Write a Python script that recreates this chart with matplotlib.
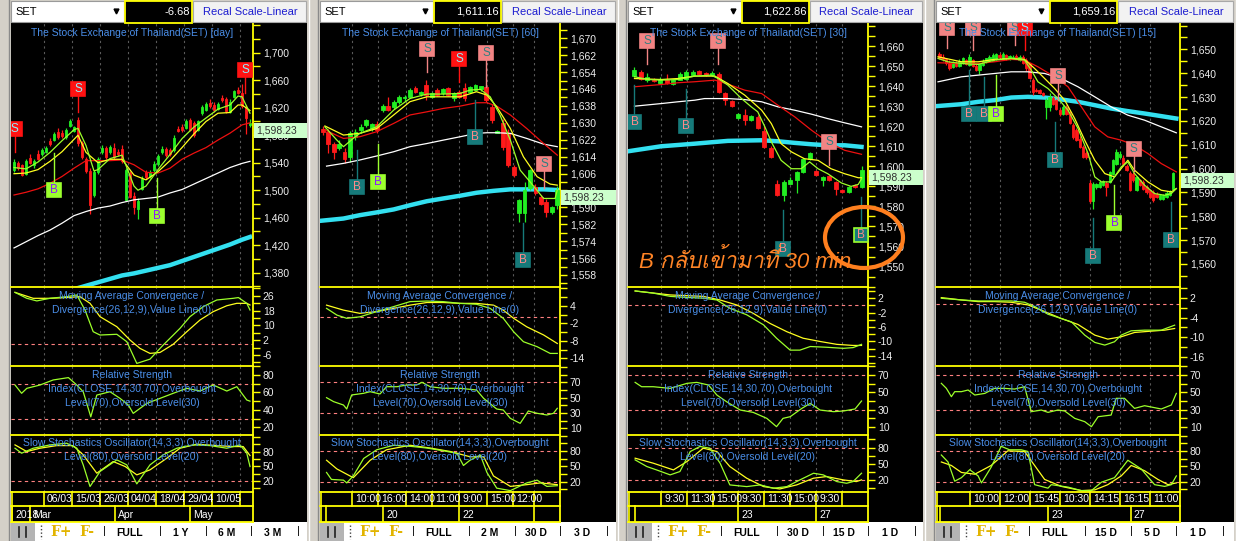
import numpy as np
import matplotlib
matplotlib.use("Agg")
import matplotlib.pyplot as plt
from matplotlib.patches import Rectangle, Ellipse
from matplotlib.ticker import FixedLocator, FuncFormatter
from matplotlib import font_manager
from matplotlib.ft2font import FT2Font

# ============================ DATA ============================
# ---- Panel 1 : daily ----
p1_open = [1530,1540,1536,1524,1547,1536,1552,1552,1556,1572,
           1573,1585,1583,1577,1593,1586,1602,1568,1545,1528,
           1493,1527,1555,1562,1555,1562,1556,1560,1486,1525,
           1492,1472,1502,1527,1520,1529,1538,1555,1560,1559,
           1558,1589,1592,1591,1602,1598,1588,1612,1617,1627,
           1624,1618,1634,1633,1614,1636,1646,1642,1621,1595]
p1_high = [1545,1542,1538,1546,1552,1545,1558,1562,1564,1576,
           1584,1590,1588,1590,1603,1594,1606,1572,1548,1532,
           1530,1548,1566,1565,1566,1568,1560,1566,1532,1528,
           1497,1488,1520,1530,1530,1542,1552,1565,1563,1562,
           1580,1594,1596,1603,1605,1600,1602,1624,1628,1632,
           1628,1628,1638,1636,1632,1646,1650,1654,1624,1604]
p1_low = [1526,1530,1520,1522,1538,1532,1544,1550,1554,1564,
          1571,1574,1576,1575,1592,1584,1565,1545,1525,1466,
          1490,1524,1552,1545,1553,1545,1550,1540,1484,1488,
          1466,1458,1500,1516,1518,1527,1535,1553,1548,1550,
          1556,1584,1585,1589,1586,1578,1586,1610,1615,1620,
          1614,1616,1628,1612,1612,1634,1640,1620,1582,1592]
p1_close = [1541,1533,1522,1543,1540,1543,1546,1559,1561,1567,
            1582,1577,1579,1588,1601,1592,1569,1548,1528,1478,
            1526,1545,1562,1548,1563,1549,1552,1543,1529,1490,
            1476,1485,1517,1519,1527,1538,1550,1560,1551,1553,
            1576,1586,1588,1601,1588,1580,1600,1621,1625,1622,
            1616,1626,1631,1615,1628,1644,1642,1622,1605,1598.23]
p1_ma_fast_x = [0,3,6,9,12,15,16,18,20,21,24,27,30,31,33,36,39,42,45,48,51,54,56,57,59]
p1_ma_fast = [1533,1531,1541,1555,1572,1588,1590,1565,1528,1530,1546,1551,1506,1500,1506,1530,1552,1575,1592,1605,1618,1624,1637,1636,1612]
p1_ma_mid_x = [0,3,6,9,12,15,16,18,21,24,27,30,33,36,39,42,45,48,51,54,56,57,59]
p1_ma_mid = [1524,1525,1530,1542,1556,1574,1580,1555,1540,1545,1545,1522,1515,1527,1543,1562,1582,1600,1612,1613,1624,1624,1616]
p1_ma_x = [0,3,6,9,12,15,18,21,24,27,30,33,36,39,42,45,48,51,54,57,59]
p1_ma_slow = [1493,1497,1502,1510,1520,1532,1543,1543,1543,1544,1537,1526,1525,1532,1545,1554,1562,1573,1583,1595,1598]
p1_ma_long = [1416,1425,1434,1442,1452,1463,1469,1474,1477,1482,1486,1488,1490,1496,1501,1509,1517,1525,1533,1539,1542]
p1_ma_trend = [1332,1337,1342,1346,1351,1356,1361,1366,1371,1376,1379,1383,1387,1391,1397,1403,1409,1415,1421,1428,1432]
p1_macd_x = [0.25,3.2,5.7,9,13.2,15.7,17.75,19.8,21.5,25.7,28.2,30.7,34,37.3,41.5,44,47.3,50.7,54.8,56.1,58.2,59]
p1_macd = [27.8,24.6,23.2,24.6,25.5,26.4,18.3,6.6,4.8,5.2,1.2,-10.5,-8.2,-0.6,8.4,14.7,20.1,23.7,24.6,25,21.9,18.3]
p1_signal_x = [0.25,4.8,9,13.2,16.5,19,21.5,25.7,29,31.5,34,36.5,39.8,43.2,46.5,49.8,53.2,55.7,58.2,59]
p1_signal = [27.8,24.6,24.6,25,25.5,21.9,14.7,9.3,2.1,-2.4,-5.1,-4.6,-0.2,6.6,12.9,17.4,20.6,21.9,21.9,21]
p1_rsi_x = [0.25,1.9,3.2,6.5,9.8,13.6,15.7,17.3,19.2,20.7,24,26.5,28.6,29.8,33.2,36.5,39.8,43.2,46.5,49.8,53.2,55.7,58.2,59]
p1_rsi = [68.5,59,64.7,68.5,74.3,77,68.5,60.8,32,57,60.8,53.2,45.5,36,47.4,53.2,59,64.7,61.6,68.5,61.6,66.6,51.3,50]
p1_k_x = [0.25,1.9,4.8,9,13.2,15.7,17.3,19,21.5,25.7,28.2,30.7,34,37.3,40.7,44.8,49,53.2,56.5,58.2,59]
p1_k = [87,76.8,87,93.8,97.2,87,53,8.8,39.4,63.2,53,14.2,53,73.4,87,93.8,92.4,87,93.8,76.8,49.6]
p1_d_x = [0.25,3.2,6.5,10.7,14.8,17.3,20.7,24.8,27.8,30.7,34,38.2,41.5,45.7,50.7,54.8,57.3,59]
p1_d = [93.8,80.2,87,92.4,92.4,73.4,36,59.8,49.6,32.6,42.8,66.6,87,95.2,92.4,90.4,90.4,72]
p1_sig_x = [0.2, 16, 57.75, 10, 35.75]
p1_sig_y = [1589.7, 1647.9, 1675.6, 1499.6, 1462.5]
p1_sig_end = [1555.6, 1613.8, 1641.4, 1554.1, 1517.8]
p1_sig_kind = ['S', 'S', 'S', 'B', 'B']
p1_time_edges = [7.5, 14.5, 21.5, 28.5, 35.5, 42.5, 49.5, 56.5]
p1_time_labels = ["06/03", "15/03", "26/03", "04/04", "18/04", "29/04", "10/05", ""]
p1_day_edges = [-0.5, 4, 25.25, 44]
p1_day_labels = ["2018", "Mar", "Apr", "May"]

# ---- Panel 2 : 60 min ----
p2_open = [1627.3,1625.8,1620.2,1618,1616.3,1614,1623.4,1626.6,1628.9,1627.3,
           1629.4,1636,1637.9,1637.6,1640,1641.5,1642.3,1646.3,1643.5,1647.9,
           1642.3,1645.5,1643.9,1646.3,1641.5,1644.7,1646.3,1644.7,1645.5,1645.8,
           1646.8,1637.6,1625.4,1629.7,1625,1609.2,1587.1,1587.1,1599,1599.7,
           1595,1592.6,1588,1591]
p2_high = [1628.5,1627,1621,1622,1618,1626,1627,1629.5,1632,1630,
           1631,1639,1642.3,1641,1643,1643,1646.5,1647.5,1645,1650.2,
           1644.5,1646.5,1646.5,1647,1644.5,1645.5,1649,1647.5,1648.5,1647.6,
           1648,1639,1626.8,1632,1627,1610,1594,1602,1608,1601,
           1596,1594,1590.5,1600]
p2_low = [1624,1615.5,1613,1617,1611,1611.5,1622,1625,1628,1626,
          1625,1635,1635.5,1636.5,1639,1640.5,1641.5,1644,1642.5,1640.8,
          1641.5,1642.5,1643,1642.5,1640.5,1641.5,1640.5,1644,1645,1645,
          1640,1630,1625,1617,1609,1604.5,1583.2,1583.2,1598,1596,
          1591,1585.5,1587,1589]
p2_close = [1625.8,1620.2,1616.3,1620.2,1612.7,1625,1625.8,1628.1,1631.3,1629.4,
            1626.6,1637.9,1636,1640,1642.3,1642.3,1645.5,1644.7,1644.5,1643.1,
            1643.9,1643.1,1645.8,1643.1,1643.9,1642.3,1641.5,1647.1,1647.9,1647.4,
            1640.8,1631.3,1626.2,1618.7,1610,1605.3,1593.4,1598.2,1607.6,1596.6,
            1591.8,1587.9,1590.3,1598.23]
p2_ma_fast_x = [0.4,2.6,3.8,5.6,6.8,9.9,13,16,19.1,22.1,25.2,27,28.9,30.7,32.5,34.4,36.2,38,40.5,42.6,43]
p2_ma_fast = [1628.1,1621.8,1618.7,1622.6,1625,1628.1,1636,1641.5,1643.6,1643.6,1643.9,1645.5,1645.8,1642.3,1633.7,1621.8,1607.6,1602.1,1594.2,1594.2,1598.2]
p2_ma_mid_x = [0.4,3.8,6.8,9.9,13,16,19.1,22.1,25.2,28.2,30.1,31.9,34.4,36.8,39.3,41.7,43]
p2_ma_mid = [1628.5,1624.2,1625,1627.3,1633.7,1640,1642.3,1642.3,1642.3,1644.7,1643.1,1637.6,1627.3,1613.9,1604.5,1601,1600.5]
p2_ma_slow_x = [0.4,3.8,6.8,9.9,13,16,19.1,22.1,25.2,28.2,30.1,31.9,34.4,37.4,40.5,43]
p2_ma_slow = [1626.6,1622.6,1623.4,1625.8,1629.7,1633.7,1635.2,1636.8,1637.9,1639.5,1639.5,1637.9,1633.7,1627.3,1620.2,1614.7]
p2_ma_long_x = [0.7,3.8,6.8,9.9,13,16,19.1,22.1,25.2,28.2,30.1,31.9,34.4,37.4,40.5,43]
p2_ma_long = [1609.5,1610.8,1612.4,1614.3,1616.3,1618.7,1620.2,1621.8,1623.4,1625,1625.3,1625.3,1625,1622.6,1619.9,1618.7]
p2_ma_trend_x = [-0.5,3.8,6.8,9.9,13,16,19.1,22.1,25.2,28.2,31.3,34.4,37.4,40.5,43]
p2_ma_trend = [1583.6,1584.7,1586.3,1587.6,1589,1591,1592.9,1594.2,1595.5,1596.9,1597.8,1598.5,1598.5,1598.5,1598.2]
p2_macd_x = [0.7,2.6,4.4,6.8,9.9,13,16,19.1,22.1,25.2,28.2,30.7,33.1,35,36.8,39.3,41.7,43]
p2_macd = [3.1,0.8,-0.3,0.2,2,3.7,5.4,5.6,5.4,4.8,4.5,3.1,-0.3,-4.9,-8.3,-10,-12.3,-12.3]
p2_signal_x = [0.7,3.8,6.8,9.9,13,16,19.1,22.1,25.2,28.2,31.3,33.1,35,37.4,40.5,43]
p2_signal = [4.2,2.5,1.4,2,3.1,4.2,5.1,5.1,4.8,4.8,4.2,2.5,-0.3,-3.2,-6,-8.9]
p2_rsi_x = [0.7,2,3.8,4.4,5.3,7.5,8.7,10.5,11.7,13.6,15.4,17.2,18.2,19.7,22.1,25.2,28.2,29.5,31.9,33.1,34.4,36.2,37.7,39.3,41.1,42.3,43]
p2_rsi = [50,44.8,40.4,35.2,53.5,55.7,57.8,54.8,64.3,64.3,66.5,66.5,70,64.3,62.2,62.2,60,49.1,35.2,33.9,23,16.5,32.6,29.6,27.4,29.6,36.1]
p2_k_x = [0.7,1.6,3.8,4.4,5.6,7.5,9.9,13,16,19.1,22.1,24.6,25.8,27,28.9,30.1,31.9,34.4,37.4,39.3,41.1,43]
p2_k = [38,24.4,23,17.6,31.2,65.2,82.2,91,89,85.6,80.2,75.4,51.6,61.8,72,38,7.4,2.6,17.6,23,10.8,12.2]
p2_d_x = [0.7,2.6,5.6,8.7,11.7,16,19.7,23.4,27,29.5,31.3,34.4,37.4,39.9,43]
p2_d = [61.8,44.8,27.8,61.8,82.2,91,85.6,78.8,68.6,68.6,31.2,10.8,14.2,17.6,14.2]
p2_sig_x = [19.2, 25, 30, 40.6, 6.3, 10.1, 27.9, 36.7]
p2_sig_y = [1664.9, 1660, 1662.8, 1610.3, 1599.4, 1602, 1623.1, 1565.3]
p2_sig_end = [1654, 1649.3, 1647, 1599.2, 1617.1, 1620, 1640.8, 1582.6]
p2_sig_kind = ['s', 'S', 's', 's', 'b', 'B', 'b', 'b']
p2_time_edges = [5.4, 10.1, 15.3, 20.05, 25.0, 30.1, 34.9, 38.8]
p2_time_labels = ["10:00", "16:00", "14:00", "11:00", "9:00", "15:00", "12:00", ""]
p2_day_edges = [0.55, 11.06, 25.0, 38.8]
p2_day_labels = ["", "20", "22", ""]

# ---- Panel 3 : 30 min ----
p3_open = [1645,1647.2,1643,1643.3,1641.7,1643.3,1641,1643.3,1643.8,1645.5,
           1647.7,1646.8,1645.5,1646,1636.7,1632.7,1624.2,1625.5,1623,1624.7,
           1617.7,1609.3,1591,1585.5,1591,1593,1597.2,1603.8,1597.7,1593,
           1595,1592.2,1588,1587.2,1590.5,1589.7]
p3_high = [1649.5,1648,1646.5,1644,1644.5,1646.3,1643.5,1647.2,1648,1648,
           1648.3,1647.2,1647.5,1647,1637.2,1633,1626.8,1628.8,1625.5,1625.5,
           1620,1610,1593,1593.3,1594.7,1597.7,1604.3,1607,1598.2,1595.2,
           1595.5,1592.7,1588.5,1590.2,1591,1600]
p3_low = [1644.5,1643,1642.2,1642.2,1641.2,1641.2,1640.5,1643,1643.3,1645,
          1645.5,1645.2,1645,1636.8,1630.5,1629.5,1623.8,1620.5,1622.5,1618.8,
          1609.2,1604.2,1585,1582.7,1591,1586.7,1596.8,1603.3,1595,1590,
          1592.5,1585.5,1586.7,1586.7,1589.2,1589]
p3_close = [1648.3,1643.8,1644.7,1642.7,1643.8,1641.7,1643,1646.3,1647.2,1647.2,
            1646,1645.7,1646.8,1637.2,1633,1630,1626,1623,1625,1619.3,
            1609.7,1604.7,1585.5,1592.2,1593.3,1597.2,1603.8,1606.7,1595.5,1594.7,
            1593,1588.8,1587.2,1589.7,1589.7,1598.23]
p3_ma_fast_x = [0,2.1,4.1,6.7,9.3,11.8,12.9,14.4,16.5,18,19,20.1,21.1,22.6,24.2,25.7,27,28.3,29.8,31.9,33.4,34.5,35]
p3_ma_fast = [1644.7,1643.3,1643,1643.3,1645,1645.5,1643.8,1640.5,1633.8,1629.7,1627.2,1619.7,1612.2,1603,1598.8,1598.8,1602.2,1598.8,1596.3,1591.7,1590,1591,1593.8]
p3_ma_mid_x = [0,4.1,6.7,9.3,12.4,14.4,17,19.6,21.1,22.6,24.2,26.2,28.3,30.3,32.4,34.5,35]
p3_ma_mid = [1643.8,1643.3,1643.8,1645,1645,1641.3,1635.5,1628,1621.3,1611.3,1607.2,1603.8,1603,1598.8,1596.3,1594.3,1594.3]
p3_ma_slow_x = [0,4.1,6.7,9.3,12.4,14.4,17,19.6,22.1,24.7,27.3,29.8,32.4,35]
p3_ma_slow = [1639.7,1640.8,1641.7,1642.2,1643,1641,1638,1636.3,1630.5,1624.7,1618,1612.2,1608,1606]
p3_ma_long_x = [0,4.1,6.7,9.3,10.8,14.4,17,19.6,22.1,24.7,27.3,29.8,32.4,35]
p3_ma_long = [1630,1631.3,1632.2,1633,1633.8,1633.8,1633.3,1632.2,1629.7,1628,1626,1623.8,1621.7,1619.7]
p3_ma_trend_x = [-1,4.1,9.3,14.4,19.6,22.1,24.7,27.3,29.8,32.4,35]
p3_ma_trend = [1607.5,1610,1611.3,1612.7,1613,1612.5,1611.7,1611,1610.5,1610.5,1609.7]
p3_macd_x = [0.1,2.9,5.5,8.1,10.6,12.7,14.7,17.3,19.9,21.9,24,25.5,27.1,29.6,32.2,33.7,35]
p3_macd = [4,3.4,2.5,2.2,2,1.5,-0.8,-2.6,-5.4,-9.1,-12.4,-12.4,-11.4,-11.6,-11.9,-11.7,-10.8]
p3_signal_x = [0.1,5.5,10.6,13.2,15.8,18.3,20.9,23.5,26,28.6,31.2,33.7,35]
p3_signal = [4,2.9,2.5,1.5,0.1,-2.2,-5,-7.3,-9.1,-10,-10.8,-11.1,-11.1]
p3_rsi_x = [0.1,1.1,2.9,5.5,8.1,9.6,11.4,12.7,14.2,16.3,18.3,20.4,21.9,22.9,24,25.8,27.1,28.6,30.7,32.2,34,35]
p3_rsi = [61.5,56.5,56.5,54.6,60.4,61.5,58.5,46.9,39.2,29.6,26.9,20,10.4,20,21.9,31.5,37.3,29.6,27.7,28.5,30.8,40]
p3_k_x = [0.1,1.9,3.4,5.5,7,8.6,10.1,11.6,13.2,14.7,17.3,19.4,21.4,23.5,25.5,27.6,29.1,31.2,32.7,33.7,35]
p3_k = [57.4,45.2,39,29.9,36,72.7,82,78.9,51.3,11.5,8.4,11.5,5.4,8.4,20.7,32.9,29.9,17.6,14.5,17.6,32.9]
p3_d_x = [0.1,2.9,6,8.1,10.6,12.7,14.7,17.3,19.9,22.4,25,27.6,29.6,32.2,34.2,35]
p3_d = [60.5,51.3,39,54.4,78.9,72.7,45.2,23.8,8.4,4.1,11.5,23.8,26.8,20.7,17.6,20.7]
p3_sig_x = [2.0, 12.95, 30, 0, 7.94, 22.9, 34.9]
p3_sig_y = [1662.5, 1662.5, 1612, 1622.3, 1620.3, 1558.8, 1565.8]
p3_sig_end = [1651, 1651, 1600.5, 1640.5, 1638.5, 1578, 1584.5]
p3_sig_kind = ['s', 's', 's', 'b', 'b', 'b', 'bl']
p3_time_edges = [4.1, 8.1, 12.1, 16.0, 20.0, 24.0, 28.0, 32.0]
p3_time_labels = ["9:30", "11:30", "15:00", "9:30", "11:30", "15:00", "9:30", ""]
p3_day_edges = [0.1, 16.0, 28.0]
p3_day_labels = ["", "23", "27"]

# ---- Panel 4 : 15 min ----
p4_open = [1648.0,1647.0,1645.8,1644.5,1642.5,1644.5,1643.2,1644.5,1645.5,1643.5,
           1645.5,1643.0,1641.3,1643.5,1644.8,1645.5,1645.2,1646.0,1647.8,1646.5,
           1647.5,1646.0,1646.0,1647.2,1645.5,1646.8,1645.5,1643.8,1637.2,1633.0,
           1632.9,1631.8,1626.0,1625.9,1629.5,1628.7,1624.5,1623.0,1625.9,1623.1,
           1618.2,1616.1,1612.5,1609.1,1606.5,1594.0,1586.2,1592.3,1592.3,1593.0,
           1594.0,1594.4,1597.9,1602.1,1605.0,1604.5,1601.0,1598.2,1597.9,1591.0,
           1595.1,1594.4,1592.3,1591.0,1590.0,1589.5,1587.4,1587.4,1588.0,1589.0,
           1591.6]
p4_high = [1649.0,1648.0,1646.5,1645.5,1645.0,1645.0,1645.8,1647.0,1646.0,1648.0,
           1646.0,1643.8,1644.5,1645.8,1646.5,1647.5,1648.3,1648.5,1648.5,1648.8,
           1648.0,1647.8,1647.5,1648.0,1647.5,1647.5,1646.2,1644.5,1637.8,1634.0,
           1633.5,1632.3,1629.5,1631.5,1630.5,1629.2,1625.3,1626.5,1626.5,1624.0,
           1619.0,1617.0,1613.5,1609.8,1607.5,1595.0,1594.5,1594.0,1595.0,1595.3,
           1594.8,1599.0,1604.0,1608.0,1607.5,1605.5,1601.8,1599.0,1598.5,1597.0,
           1595.8,1595.0,1593.0,1591.5,1591.0,1590.0,1589.5,1589.2,1590.5,1591.0,
           1598.5]
p4_low = [1646.0,1645.0,1643.5,1641.5,1642.0,1642.8,1642.8,1644.0,1643.5,1643.2,
          1642.5,1641.0,1639.5,1643.0,1644.5,1645.0,1645.0,1645.5,1646.5,1646.2,
          1645.5,1645.5,1645.8,1645.8,1645.2,1644.0,1641.0,1637.5,1631.0,1632.0,
          1631.2,1630.5,1621.0,1624.0,1626.5,1624.5,1622.0,1622.5,1622.5,1618.5,
          1612.5,1611.5,1608.5,1604.5,1604.0,1585.5,1583.2,1591.5,1592.0,1592.5,
          1588.5,1593.8,1597.5,1601.5,1604.5,1601.0,1599.0,1590.5,1594.5,1590.5,
          1592.5,1591.2,1589.5,1587.5,1585.8,1587.5,1587.0,1586.8,1587.8,1588.5,
          1590.5]
p4_close = [1646.5,1645.8,1644.5,1642.2,1644.3,1643.2,1645.2,1646.2,1644.0,1646.9,
            1643.0,1641.5,1643.8,1645.0,1646.2,1646.9,1647.8,1648.0,1646.9,1648.0,
            1646.2,1647.2,1647.0,1646.2,1646.8,1644.5,1642.0,1637.8,1632.2,1632.5,
            1631.5,1630.8,1628.7,1630.1,1627.0,1625.2,1622.8,1625.9,1623.1,1619.0,
            1613.3,1611.9,1609.1,1604.9,1604.9,1586.2,1593.7,1593.5,1594.4,1594.8,
            1592.3,1598.6,1603.5,1607.0,1606.0,1601.8,1599.5,1590.9,1595.1,1596.5,
            1593.0,1591.6,1590.0,1588.1,1587.0,1588.1,1588.8,1588.8,1589.8,1590.5,
            1598.23]
p4_ma_fast_x = [-0.4,2.6,6.6,11.6,16.5,21.5,25.5,27.5,29.5,32.5,35.5,38.5,41.5,44.5,46.5,48.5,51.4,54.4,56.4,58.4,61.4,64.4,67.4,69.4,70.9]
p4_ma_fast = [1646.2,1644.8,1644.1,1643.7,1645.5,1646.2,1645.5,1641.3,1636.4,1633.6,1629.4,1624.5,1616.8,1606.3,1596.5,1594.4,1594.4,1600.7,1602.8,1597.9,1593,1589.5,1588.8,1589.5,1591.6]
p4_ma_mid_x = [-0.4,6.6,11.6,16.5,21.5,25.5,28.5,31.5,34.5,37.5,40.5,43.5,46.5,49.5,52.4,56.4,58.4,62.4,66.4,69.4,70.9]
p4_ma_mid = [1646.9,1644.8,1644.8,1645.8,1646.2,1645.8,1642,1637.8,1633.6,1628.7,1621,1611.9,1603.5,1597.9,1596.5,1603.5,1599.3,1594.4,1590.9,1590.2,1591.6]
p4_ma_slow_x = [-0.4,6.6,11.6,16.5,21.5,25.5,29.5,34.5,38.5,42.5,46.5,50.4,54.4,58.4,62.4,66.4,70.9]
p4_ma_slow = [1644.4,1644.1,1644.1,1644.8,1645.8,1645.5,1642.7,1638.5,1634.3,1625.9,1617.5,1613.3,1611.9,1609.8,1606.3,1602.1,1598.6]
p4_ma_long_x = [-0.4,6.6,11.6,16.5,21.5,26.5,31.5,36.5,41.5,46.5,51.4,56.4,61.4,66.4,70.9]
p4_ma_long = [1636.4,1638.5,1639.2,1639.9,1640.6,1640.6,1639.9,1637.8,1634.3,1630.1,1625.9,1622.4,1620.3,1617.5,1615]
p4_ma_trend_x = [-0.9,6.6,11.6,16.5,21.5,26.5,31.5,36.5,41.5,46.5,51.4,56.4,61.4,66.4,70.9]
p4_ma_trend = [1626.2,1627,1628,1628.7,1629.8,1630.1,1629.8,1629,1628,1626.6,1625.2,1624.1,1623.1,1622,1621]
p4_macd_x = [0.6,6.6,11.6,16.5,21.5,25.5,28.5,32.5,36.5,39.5,43.5,46.5,49.5,52.4,54.4,57.4,61.4,66.4,70.4]
p4_macd = [1.8,1.3,1,1,1,0.6,-0.7,-3,-4.3,-5.3,-9.3,-11.5,-12.3,-11.3,-9.3,-8,-7.8,-7.8,-6.3]
p4_signal_x = [0.6,6.6,11.6,16.5,21.5,26.5,31.5,36.5,41.5,46.5,50.4,54.4,58.4,63.4,67.4,70.4]
p4_signal = [2,1.3,0.8,0.8,0.6,-0.2,-2.2,-4.3,-6.1,-9.3,-10.5,-9.8,-8.5,-8.1,-7.8,-7.3]
p4_rsi_x = [0.6,2.1,3.6,4.6,6.6,8.6,10.6,13.6,16.5,19.5,22.5,25.5,27.5,30.5,32.5,35.5,37.5,40.5,43.5,45.5,47.5,51.4,52.9,55.4,58.4,61.4,66.4,69.4,70.9]
p4_rsi = [60.4,54.6,45,50.8,50.8,52.7,46.9,48.8,54.6,54.6,53.8,56.5,27.7,29.6,26.9,29.6,28.5,20,16.2,10.4,21.9,23.8,43.1,43.1,31.5,34.6,30.8,35.4,48.8]
p4_k_x = [0.6,2.6,4.6,6.6,9.1,11.6,12.6,15.5,18.5,21,24.5,26.5,28.5,32.5,33.5,38.5,42.5,45.5,48.5,52.4,56.4,60.4,64.4,67.4,69.4,70.9]
p4_k = [72,58.4,21,27.8,43.4,31.2,17.6,48.2,89,82.2,82.2,78.8,14.2,7.4,14.2,9.4,2.6,2.6,19,27.8,61.8,44.8,14.2,10.8,14.2,31.2]
p4_d_x = [0.6,3.6,6.6,10.6,15.5,20.5,25.5,28.5,31.5,36.5,42.5,46.5,50.4,54.4,57.4,61.4,65.4,68.4,70.9]
p4_d = [58.4,51.6,38,34.6,51.6,80.2,78.8,51.6,24.4,10.8,2.6,4,14.2,31.2,51.6,41.4,24.4,14.2,17.6]
p4_sig_x = [2.44, 10.1, 22.5, 25.5, 35.6, 58.2, 8.9, 13.4, 17, 34.5, 46, 52.4, 69.3]
p4_sig_y = [1659, 1659, 1659, 1659, 1639, 1608.3, 1623, 1623, 1623, 1603.7, 1563.4, 1577.2, 1570.1]
p4_sig_end = [1650.5, 1649.7, 1651.8, 1649.7, 1629.1, 1599, 1641.3, 1638.4, 1639.2, 1619.5, 1579.1, 1593, 1585.8]
p4_sig_kind = ['s', 's', 's', 'S', 's', 's', 'b', 'b', 'B', 'b', 'b', 'B', 'b']
p4_time_edges = [9.17, 18.15, 27.1, 36.1, 45.1, 54.06, 63.03]
p4_time_labels = ["10:00", "12:00", "15:45", "10:30", "14:15", "16:15", "11:00"]
p4_day_edges = [0.1, 32.5, 57.3]
p4_day_labels = ["", "23", "27"]

# header / toolbar texts
timeframes = ["[day]", "[60]", "[30]", "[15]"]
header_values = ["-6.68", "1,611.16", "1,622.86", "1,659.16"]
toolbar_labels = [["FULL", "1 Y", "6 M", "3 M"],
                  ["FULL", "2 M", "30 D", "3 D"],
                  ["FULL", "30 D", "15 D", "1 D"],
                  ["FULL", "15 D", "5 D", "1 D"]]
note_text = "B กลับเข้ามาที่ 30 min"

# ============================ STYLE / LAYOUT ============================
W, H = 1236, 541
BG = '#d4d0c8'
YEL = '#ffff00'
TXT = '#eeeeee'
BLUE = '#4a8ee8'
C_UP, C_DN = '#22ee22', '#ff1a1a'
C_FAST, C_MID, C_SLOW, C_LONG, C_TREND = '#9cff2a', '#ffff20', '#ee1010', '#ffffff', '#33e0f0'
LEVEL = '#ff8080'
GRID = '#5a5a5a'
SIG_STYLE = {  # face, text, edge, stem
    'S': ('#ff1212', '#8ff0ff', '#ff1212', '#ff1212'),
    's': ('#f28484', '#2f7f80', '#f28484', '#f28484'),
    'B': ('#9cff2e', '#8a1aff', '#9cff2e', '#9cff2e'),
    'b': ('#167a7a', '#ff8a8a', '#167a7a', '#167a7a'),
    'bl': ('#167a7a', '#ff8a8a', '#9cff2e', '#167a7a'),
}
PANELS = [(11, 253, 307), (320, 560, 616), (628, 868, 923), (936, 1180, 1234)]
Y_TOP, Y_PR, Y_MACD, Y_RSI, Y_STO, Y_R1, Y_R2, Y_END = 22, 287, 366, 435, 492, 506, 522, 541

plt.rcParams['font.family'] = ['Liberation Sans', 'DejaVu Sans']
plt.rcParams['axes.unicode_minus'] = False


def thai_family():
    seen = set()
    cands = []
    for fe in font_manager.fontManager.ttflist:
        if fe.fname in seen:
            continue
        seen.add(fe.fname)
        try:
            cmap = FT2Font(fe.fname).get_charmap()
        except Exception:
            continue
        if 0x0E01 in cmap and 0x0E35 in cmap:
            cands.append(fe)
    if not cands:
        return None
    cands.sort(key=lambda f: (f.style != 'normal', str(f.weight) not in ('400', 'normal')))
    return cands[0].name


fig = plt.figure(figsize=(W / 100, H / 100), dpi=100)
fig.patch.set_facecolor(BG)


def pax(x0, y0, x1, y1, z=1):
    return fig.add_axes([x0 / W, 1 - y1 / H, (x1 - x0) / W, (y1 - y0) / H], zorder=z)


bg = pax(0, 0, W, H, z=-5)
bg.set_xlim(0, W); bg.set_ylim(H, 0); bg.axis('off')
fg = pax(0, 0, W, H, z=10)
fg.set_xlim(0, W); fg.set_ylim(H, 0); fg.axis('off')


def style_axis(ax, xlim, ylim, major, minor, fmt):
    ax.set_facecolor('none')
    ax.set_xlim(*xlim); ax.set_ylim(*ylim)
    ax.yaxis.tick_right()
    ax.yaxis.set_major_locator(FixedLocator(major))
    ax.yaxis.set_minor_locator(FixedLocator(minor))
    ax.yaxis.set_major_formatter(FuncFormatter(fmt))
    ax.tick_params(axis='y', which='both', direction='out', color=YEL, length=5, width=1,
                   labelcolor=TXT, labelsize=7.5, pad=2)
    ax.tick_params(axis='x', which='both', bottom=False, labelbottom=False)
    for s in ('left', 'top', 'bottom'):
        ax.spines[s].set_visible(False)
    ax.spines['right'].set_color(YEL)
    ax.spines['right'].set_linewidth(1.3)


def candles(ax, o, h, l, c, width):
    o, h, l, c = map(np.asarray, (o, h, l, c))
    assert len(o) == len(h) == len(l) == len(c)
    x = np.arange(len(o))
    col = np.where(c >= o, C_UP, C_DN)
    ax.vlines(x, l, h, colors=col, lw=0.9, zorder=2.5)
    ax.bar(x, np.abs(c - o), width, bottom=np.minimum(o, c), color=col, edgecolor=col,
           linewidth=0.6, zorder=2.6)


def line(ax, xs, ys, color, lw=0.9, z=3):
    assert len(xs) == len(ys)
    ax.plot(xs, ys, color=color, lw=lw, zorder=z, solid_joinstyle='round')


def signals(ax, xs, ys, ends, kinds):
    for x, y, e, k in zip(xs, ys, ends, kinds):
        fc, tc, ec, sc = SIG_STYLE[k]
        ax.plot([x, x], [y, e], color=sc, lw=1.0, zorder=4)
        ax.plot([x], [y], marker='s', ms=10.5, mfc=fc, mec=ec, mew=1.2, zorder=5)
        ax.text(x, y, 'S' if k in ('S', 's') else 'B', ha='center', va='center',
                fontsize=8.5, color=tc, zorder=6, clip_on=True)


price_fmt = lambda v, p: f"{v:,.0f}"
int_fmt = lambda v, p: f"{v:.0f}"

cfg = [
    dict(o=p1_open, h=p1_high, l=p1_low, c=p1_close, width=0.7,
         xlim=(-0.75, 59.75), ylim=(1359.2, 1744.7),
         pmaj=np.arange(1380, 1701, 40), pmin=np.arange(1360, 1741, 20),
         mas=[(p1_ma_x, p1_ma_trend), (p1_ma_x, p1_ma_long), (p1_ma_x, p1_ma_slow),
              (p1_ma_mid_x, p1_ma_mid), (p1_ma_fast_x, p1_ma_fast)],
         macd=(p1_macd_x, p1_macd, p1_signal_x, p1_signal), macd_lim=(-11.9, 30.7),
         macd_maj=[-6, 2, 10, 18, 26], macd_min=np.arange(-10, 31, 4),
         rsi=(p1_rsi_x, p1_rsi), rsi_lim=(11.2, 90.3), rsi_maj=[20, 40, 60, 80], rsi_min=np.arange(10, 91, 10),
         sto=(p1_k_x, p1_k, p1_d_x, p1_d), sto_lim=(-2.4, 114),
         sig=(p1_sig_x, p1_sig_y, p1_sig_end, p1_sig_kind),
         tedges=p1_time_edges, tlabels=p1_time_labels, dedges=p1_day_edges, dlabels=p1_day_labels),
    dict(o=p2_open, h=p2_high, l=p2_low, c=p2_close, width=0.7,
         xlim=(-0.5, 43.5), ylim=(1552.3, 1677.7),
         pmaj=np.arange(1558, 1671, 8), pmin=np.arange(1554, 1678, 4),
         mas=[(p2_ma_trend_x, p2_ma_trend), (p2_ma_long_x, p2_ma_long), (p2_ma_slow_x, p2_ma_slow),
              (p2_ma_mid_x, p2_ma_mid), (p2_ma_fast_x, p2_ma_fast)],
         macd=(p2_macd_x, p2_macd, p2_signal_x, p2_signal), macd_lim=(-16.6, 10.4),
         macd_maj=[-14, -8, -2, 4], macd_min=np.arange(-17, 11, 3),
         rsi=(p2_rsi_x, p2_rsi), rsi_lim=(1.3, 91.3), rsi_maj=[10, 30, 50, 70], rsi_min=np.arange(0, 92, 10),
         sto=(p2_k_x, p2_k, p2_d_x, p2_d), sto_lim=(-0.1, 111),
         sig=(p2_sig_x, p2_sig_y, p2_sig_end, p2_sig_kind),
         tedges=p2_time_edges, tlabels=p2_time_labels, dedges=p2_day_edges, dlabels=p2_day_labels),
    dict(o=p3_open, h=p3_high, l=p3_low, c=p3_close, width=0.62,
         xlim=(-1, 36), ylim=(1539.8, 1672),
         pmaj=np.arange(1550, 1661, 10), pmin=np.arange(1540, 1672, 5),
         mas=[(p3_ma_trend_x, p3_ma_trend), (p3_ma_long_x, p3_ma_long), (p3_ma_slow_x, p3_ma_slow),
              (p3_ma_mid_x, p3_ma_mid), (p3_ma_fast_x, p3_ma_fast)],
         macd=(p3_macd_x, p3_macd, p3_signal_x, p3_signal), macd_lim=(-16.8, 5.1),
         macd_maj=[-14, -10, -6, -2, 2], macd_min=np.arange(-16, 6, 2),
         rsi=(p3_rsi_x, p3_rsi), rsi_lim=(0.8, 80.4), rsi_maj=[10, 30, 50, 70], rsi_min=np.arange(0, 81, 10),
         sto=(p3_k_x, p3_k, p3_d_x, p3_d), sto_lim=(-1.5, 103),
         sig=(p3_sig_x, p3_sig_y, p3_sig_end, p3_sig_kind),
         tedges=p3_time_edges, tlabels=p3_time_labels, dedges=p3_day_edges, dlabels=p3_day_labels),
    dict(o=p4_open, h=p4_high, l=p4_low, c=p4_close, width=0.7,
         xlim=(-1, 72), ylim=(1550.3, 1661.5),
         pmaj=np.arange(1560, 1651, 10), pmin=np.arange(1555, 1662, 5),
         mas=[(p4_ma_trend_x, p4_ma_trend), (p4_ma_long_x, p4_ma_long), (p4_ma_slow_x, p4_ma_slow),
              (p4_ma_mid_x, p4_ma_mid), (p4_ma_fast_x, p4_ma_fast)],
         macd=(p4_macd_x, p4_macd, p4_signal_x, p4_signal), macd_lim=(-18.6, 5.2),
         macd_maj=[-16, -10, -4, 2], macd_min=np.arange(-19, 6, 3),
         rsi=(p4_rsi_x, p4_rsi), rsi_lim=(0.8, 80.4), rsi_maj=[10, 30, 50, 70], rsi_min=np.arange(0, 81, 10),
         sto=(p4_k_x, p4_k, p4_d_x, p4_d), sto_lim=(-0.1, 111),
         sig=(p4_sig_x, p4_sig_y, p4_sig_end, p4_sig_kind),
         tedges=p4_time_edges, tlabels=p4_time_labels, dedges=p4_day_edges, dlabels=p4_day_labels),
]

ma_colors = [C_TREND, C_LONG, C_SLOW, C_MID, C_FAST]
ma_widths = [3.2, 0.9, 0.9, 0.9, 0.9]
ma_z = [2.0, 3, 3, 3.1, 3.2]

price_axes = []
for k, ((L, A, R), d) in enumerate(zip(PANELS, cfg)):
    # panel chrome (background)
    bg.add_patch(Rectangle((L, Y_TOP), R - L, Y_R2 - Y_TOP, fc='black', ec='none'))
    bg.add_patch(Rectangle((L, Y_R2), R - L, Y_END - Y_R2, fc='white', ec='none'))
    bg.plot([L - 2, L - 2], [0, H], color='#8a8a8a', lw=1)
    bg.plot([R + 2, R + 2], [0, H], color='#ffffff', lw=1)

    # ---- price pane
    ax = pax(L, Y_TOP, A, Y_PR)
    style_axis(ax, d['xlim'], d['ylim'], d['pmaj'], d['pmin'], price_fmt)
    for (xs, ys), col, lw, z in zip(d['mas'], ma_colors, ma_widths, ma_z):
        line(ax, xs, ys, col, lw=lw, z=z)
    candles(ax, d['o'], d['h'], d['l'], d['c'], d['width'])
    signals(ax, *d['sig'])
    price_axes.append(ax)

    # ---- MACD
    am = pax(L, Y_PR, A, Y_MACD)
    style_axis(am, d['xlim'], d['macd_lim'], d['macd_maj'], d['macd_min'], int_fmt)
    am.axhline(0, color=LEVEL, lw=0.8, ls=(0, (3, 3)), zorder=1)
    line(am, d['macd'][2], d['macd'][3], C_MID)
    line(am, d['macd'][0], d['macd'][1], C_FAST)

    # ---- RSI
    ar = pax(L, Y_MACD, A, Y_RSI)
    style_axis(ar, d['xlim'], d['rsi_lim'], d['rsi_maj'], d['rsi_min'], int_fmt)
    for lev in (30, 70):
        ar.axhline(lev, color=LEVEL, lw=0.8, ls=(0, (3, 3)), zorder=1)
    line(ar, d['rsi'][0], d['rsi'][1], C_FAST)

    # ---- Stochastic
    ast = pax(L, Y_RSI, A, Y_STO)
    style_axis(ast, d['xlim'], d['sto_lim'], [20, 50, 80], np.arange(5, 111, 15), int_fmt)
    for lev in (20, 80):
        ast.axhline(lev, color=LEVEL, lw=0.8, ls=(0, (3, 3)), zorder=1)
    line(ast, d['sto'][2], d['sto'][3], C_MID)
    line(ast, d['sto'][0], d['sto'][1], C_FAST)

    # vertical time grid
    for a in (ax, am, ar, ast):
        for e in d['tedges']:
            a.axvline(e, color=GRID, lw=0.8, ls=(0, (2, 3)), zorder=0.5)

    # pane separators (yellow)
    for yy in (Y_PR, Y_MACD, Y_RSI, Y_STO, Y_R1, Y_R2):
        fg.plot([L, A], [yy, yy], color=YEL, lw=1.3, zorder=11)
    fg.plot([L + 0.7, L + 0.7], [Y_STO, Y_R2], color=YEL, lw=1.2, zorder=11)
    fg.plot([A, A], [Y_STO, Y_R2], color=YEL, lw=1.3, zorder=11)

    def xpx(v, a=ax):
        return a.transData.transform((v, 0))[0]

    # time row
    for e, lab in zip(d['tedges'], d['tlabels']):
        xp = xpx(e)
        fg.plot([xp, xp], [Y_STO, Y_R1], color=YEL, lw=1.2, zorder=11)
        if lab:
            fg.text(xp + 3, (Y_STO + Y_R1) / 2 + 0.5, lab, ha='left', va='center', color='white',
                    fontsize=7.5, zorder=12)
    # day row
    for e, lab in zip(d['dedges'], d['dlabels']):
        xp = max(xpx(e), L + 1)
        fg.plot([xp, xp], [Y_R1, Y_R2], color=YEL, lw=1.2, zorder=11)
        if lab:
            fg.text(xp + 3, (Y_R1 + Y_R2) / 2 + 0.5, lab, ha='left', va='center', color='white',
                    fontsize=7.5, zorder=12)

    # titles
    cx = (L + A) / 2
    fg.text(cx, 33, f"The Stock Exchange of Thailand(SET) {timeframes[k]}", ha='center', va='center',
            color=BLUE, fontsize=7.5, zorder=12)
    for yy, s in ((296, "Moving Average Convergence /"), (310, "Divergence(26,12,9),Value Line(0)"),
                  (374.5, "Relative Strength"), (388.5, "Index(CLOSE,14,30,70),Overbought"),
                  (402.5, "Level(70),Oversold Level(30)"),
                  (443.5, "Slow Stochastics Oscillator(14,3,3),Overbought"),
                  (457.5, "Level(80),Oversold Level(20)")):
        fg.text(cx, yy, s, ha='center', va='center', color=BLUE, fontsize=7.5, zorder=12)

    # last price label
    last = d['c'][-1]
    ypx = H - ax.transData.transform((0, last))[1]
    fg.add_patch(Rectangle((A + 1, ypx), R - A - 1, 15, fc='#ccffcc', ec='none', zorder=12))
    fg.text(A + 3, ypx + 7.8, f"{last:,.2f}", ha='left', va='center', color='#303030',
            fontsize=7.5, zorder=13)

    # header
    fg.add_patch(Rectangle((L, 1), 113, 21, fc='white', ec='#9a9a9a', lw=0.8, zorder=11))
    fg.text(L + 4, 12, "SET", ha='left', va='center', color='black', fontsize=8, zorder=12)
    fg.plot([L + 105], [11], marker='v', ms=3.5, color='black', zorder=12)
    fg.add_patch(Rectangle((L + 114, 1), 67, 22, fc='black', ec=YEL, lw=1.3, zorder=11))
    fg.text(L + 179, 12, header_values[k], ha='right', va='center', color='white', fontsize=8, zorder=12)
    fg.add_patch(Rectangle((L + 182, 1), R - L - 183, 21, fc='#f2f2f2', ec='#a8a8a8', lw=0.8, zorder=11))
    fg.text((L + 182 + R) / 2, 12, "Recal Scale-Linear", ha='center', va='center', color='#1c1cd0',
            fontsize=8, zorder=12)

    # toolbar
    fg.add_patch(Rectangle((L, Y_R2 + 1), 24, Y_END - Y_R2 - 1, fc='#b4b4b4', ec='none', zorder=11))
    for xx in (L + 8, L + 15):
        fg.plot([xx, xx], [Y_R2 + 5, Y_END - 4], color='#202020', lw=1.2, zorder=12)
    fg.plot([L + 30, L + 30], [Y_R2 + 3, Y_END - 2], color='#404040', lw=1, ls=(0, (1, 1.5)), zorder=12)
    ty = (Y_R2 + Y_END) / 2 + 1
    fg.text(L + 50, ty, "F+", ha='center', va='center', color='#e2b400', fontsize=10,
            fontweight='bold', family='DejaVu Serif', zorder=12)
    fg.text(L + 76, ty, "F-", ha='center', va='center', color='#e2b400', fontsize=10,
            fontweight='bold', family='DejaVu Serif', zorder=12)
    for xx in (L + 93, L + 149, L + 195, L + 240, L + 287):
        fg.text(xx, ty - 1, "|", ha='center', va='center', color='black', fontsize=8, zorder=12)
    for xx, lab in zip((L + 119, L + 170, L + 216, L + 262), toolbar_labels[k]):
        fg.text(xx, ty, lab, ha='center', va='center', color='black', fontsize=7.5,
                fontweight='bold', zorder=12)

# orange annotation on the 30-minute chart
thai = thai_family()
fam = ['Liberation Sans', thai, 'DejaVu Sans'] if thai else ['Liberation Sans', 'DejaVu Sans']
fg.text(639, 268, note_text, ha='left', va='baseline', color='#ff8426', fontsize=16,
        style='italic', family=fam, zorder=14)
fg.add_patch(Ellipse((864, 237.5), 78, 61, fc='none', ec='#ff7f1e', lw=3, zorder=14))

fig.savefig("out.png", dpi=100, facecolor=fig.get_facecolor())
